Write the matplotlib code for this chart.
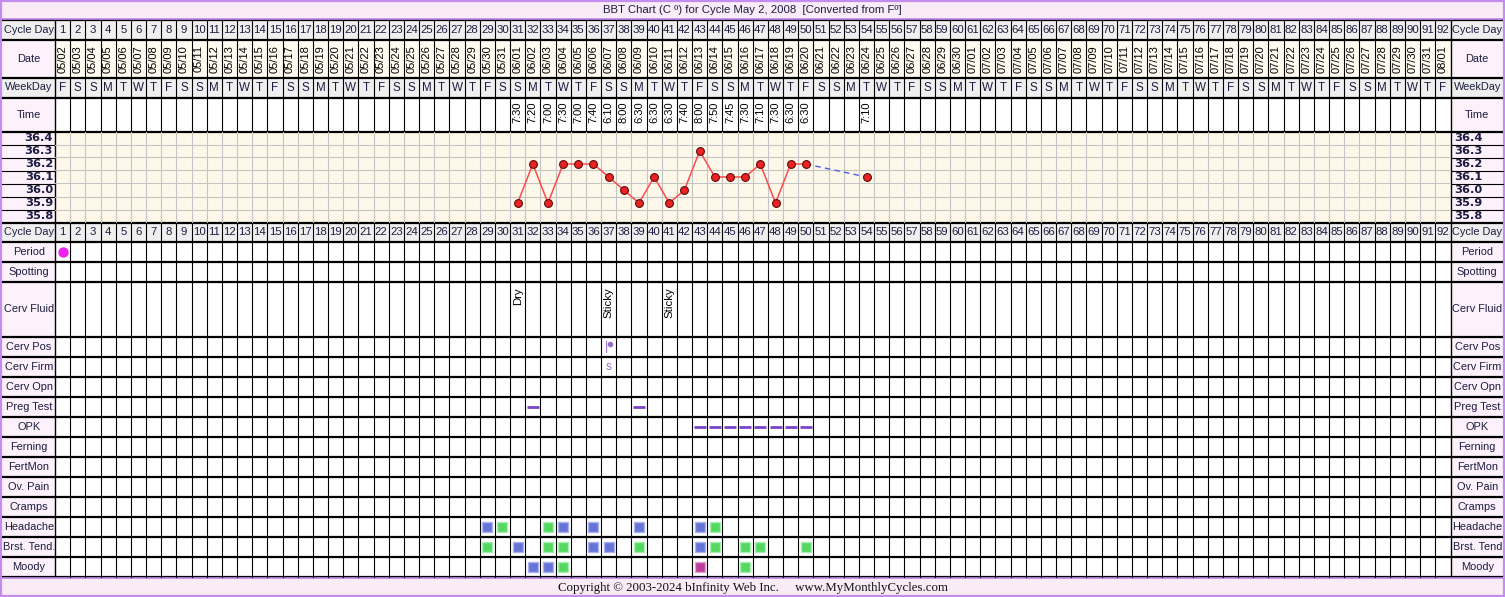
import datetime
import matplotlib
matplotlib.use('Agg')
import matplotlib.pyplot as plt
from matplotlib.patches import Rectangle

# ---------------- data ----------------
title = "BBT Chart (C \u00ba) for Cycle May 2, 2008  [Converted from F\u00ba]"
footer = "Copyright \u00a9 2003-2024 bInfinity Web Inc.     www.MyMonthlyCycles.com"

cycle_days = list(range(1, 93))
start_date = datetime.date(2008, 5, 2)
dates = [(start_date + datetime.timedelta(days=d - 1)).strftime('%m/%d') for d in cycle_days]
weekdays = ['MTWTFSS'[(start_date + datetime.timedelta(days=d - 1)).weekday()] for d in cycle_days]

temp_levels = [36.4, 36.3, 36.2, 36.1, 36.0, 35.9, 35.8]

temp_days = [31, 32, 33, 34, 35, 36, 37, 38, 39, 40, 41, 42, 43, 44, 45, 46, 47, 48, 49, 50]
temps = [35.9, 36.2, 35.9, 36.2, 36.2, 36.2, 36.1, 36.0, 35.9, 36.1,
         35.9, 36.0, 36.3, 36.1, 36.1, 36.1, 36.2, 35.9, 36.2, 36.2]
temp_times = ['7:30', '7:20', '7:00', '7:30', '7:00', '7:40', '6:10', '8:00', '6:30', '6:30',
              '6:30', '7:40', '8:00', '7:50', '7:45', '7:30', '7:10', '7:30', '6:30', '6:30']
late_days = [54]
late_temps = [36.1]
late_times = ['7:10']

period_days = [1]
cf_days = [31, 37, 41]
cf_text = ['Dry', 'Sticky', 'Sticky']
cerv_pos_days = [37]
cerv_firm_days = [37]
cerv_firm_text = ['s']
preg_days = [32, 39]
opk_days = [43, 44, 45, 46, 47, 48, 49, 50]
headache_days = [29, 30, 33, 34, 36, 39, 43, 44]
headache_kind = ['b', 'g', 'g', 'b', 'b', 'b', 'b', 'g']
brst_days = [29, 31, 33, 34, 36, 37, 39, 43, 44, 46, 47, 50]
brst_kind = ['g', 'b', 'g', 'g', 'b', 'b', 'g', 'b', 'g', 'g', 'g', 'g']
moody_days = [32, 33, 34, 43, 46]
moody_kind = ['b', 'b', 'g', 'm', 'g']

lower_labels = ['Period', 'Spotting', 'Cerv Fluid', 'Cerv Pos', 'Cerv Firm', 'Cerv Opn',
                'Preg Test', 'OPK', 'Ferning', 'FertMon', 'Ov. Pain', 'Cramps',
                'Headache', 'Brst. Tend.', 'Moody']
lower_labels_right = ['Period', 'Spotting', 'Cerv Fluid', 'Cerv Pos', 'Cerv Firm', 'Cerv Opn',
                      'Preg Test', 'OPK', 'Ferning', 'FertMon', 'Ov. Pain', 'Cramps',
                      'Headache', 'Brst. Tend', 'Moody']

# ---------------- layout ----------------
W, H = 1505, 597
X0, X1 = 55.0, 1450.5
LL, RR = 2.0, 1503.0
TT, TB = 131.5, 222.5

C_BORDER = '#c58cf0'
C_BAND = '#f9ecf7'
C_PINK = '#fdf2fc'
C_GRAY = '#efefef'
C_CREAM = '#fffbf0'
C_TEMP = '#fdf8ea'
C_GRID = '#c4c4c4'
C_TXT = '#1c1c40'
SQ = {'b': '#6674d8', 'g': '#55d860', 'm': '#c03c9c'}
SQE = {'b': '#aab2ee', 'g': '#a8eeb0', 'm': '#e0a0d0'}
PURP = '#7a44c8'

SANS = 'Liberation Sans'
FS_LAB = 7.9
FS_DAY = 8.2
FS_ROT = 8.0

fig = plt.figure(figsize=(W / 100, H / 100), dpi=100)
fig.patch.set_facecolor('white')
ax = fig.add_axes([0, 0, 1, 1])
ax.set_xlim(0, W)
ax.set_ylim(H, 0)
ax.axis('off')

axd = fig.add_axes([X0 / W, 0, (X1 - X0) / W, 1])
axd.set_xlim(0.5, 92.5)
axd.set_ylim(H, 0)
axd.axis('off')
axd.patch.set_alpha(0)

# header rows
upper_rows = [('Cycle Day', 19.5, 40.0, C_GRAY, C_GRAY),
              ('Date', 40.0, 77.5, C_PINK, C_CREAM),
              ('WeekDay', 77.5, 97.5, C_GRAY, C_GRAY),
              ('Time', 97.5, TT, C_PINK, 'white')]
rows2 = [('Cycle Day', TB, 241.7, C_GRAY, C_GRAY),
         ('Period', 241.7, 261.7, C_PINK, 'white'),
         ('Spotting', 261.7, 282.0, C_PINK, 'white'),
         ('Cerv Fluid', 282.0, 336.7, C_PINK, 'white')]
y = 336.7
for lab in lower_labels[3:]:
    rows2.append((lab, y, y + 20.0, C_PINK, 'white'))
    y += 20.0
BOT = y

# bands
ax.add_patch(Rectangle((0, 0), W, 19.5, facecolor=C_BAND, edgecolor='none'))
ax.add_patch(Rectangle((0, BOT), W, H - BOT, facecolor=C_BAND, edgecolor='none'))
ax.text(W / 2, 10, title, ha='center', va='center', fontsize=8.2, family=SANS, color=C_TXT)
ax.text(W / 2, 587.5, footer, ha='center', va='center', fontsize=9.3,
        family='Liberation Serif', color='#101010')

all_rows = upper_rows + rows2
for i, (lab, t, b, lbg, cbg) in enumerate(all_rows):
    ax.add_patch(Rectangle((LL, t), X0 - LL, b - t, facecolor=lbg, edgecolor='none'))
    ax.add_patch(Rectangle((X1, t), RR - X1, b - t, facecolor=lbg, edgecolor='none'))
    ax.add_patch(Rectangle((X0, t), X1 - X0, b - t, facecolor=cbg, edgecolor='none'))
    ax.text((LL + X0) / 2 + 0.5, (t + b) / 2, lab, ha='center', va='center', fontsize=FS_LAB,
            family=SANS, color=C_TXT)
    rlab = lab
    if i >= len(upper_rows) and lab in lower_labels:
        rlab = lower_labels_right[lower_labels.index(lab)]
    ax.text((X1 + RR) / 2 + 0.5, (t + b) / 2, rlab, ha='center', va='center', fontsize=FS_LAB,
            family=SANS, color=C_TXT)

# temperature region background + label cells
ax.add_patch(Rectangle((X0, TT), X1 - X0, TB - TT, facecolor=C_TEMP, edgecolor='none'))
ax.add_patch(Rectangle((LL, TT), X0 - LL, TB - TT, facecolor=C_PINK, edgecolor='none'))
ax.add_patch(Rectangle((X1, TT), RR - X1, TB - TT, facecolor=C_PINK, edgecolor='none'))
rh = (TB - TT) / len(temp_levels)
for k, tv in enumerate(temp_levels):
    yc = TT + rh * (k + 0.5)
    ax.text(X0 - 2, yc, f"{tv:.1f}", ha='right', va='center', fontsize=8.2,
            family='DejaVu Sans', weight='bold', color=C_TXT)
    ax.text(X1 + 4, yc, f"{tv:.1f}", ha='left', va='center', fontsize=8.2,
            family='DejaVu Sans', weight='bold', color=C_TXT)
    if k > 0:
        ax.plot([LL, X0], [TT + rh * k] * 2, color='black', lw=0.8)
        ax.plot([X1, RR], [TT + rh * k] * 2, color='black', lw=0.8)

# grid lines
bounds = [r[1] for r in upper_rows] + [TT, TB] + [r[2] for r in rows2]
for yy in bounds:
    ax.plot([LL, RR], [yy, yy], color='black', lw=1.6, solid_capstyle='butt')
for xx in (X0, X1):
    ax.plot([xx, xx], [19.5, BOT], color='black', lw=1.0)
for d in range(1, 92):
    axd.plot([d + 0.5, d + 0.5], [19.5, TT], color='black', lw=0.8)
    axd.plot([d + 0.5, d + 0.5], [TT, TB], color=C_GRID, lw=0.8)
    axd.plot([d + 0.5, d + 0.5], [TB, BOT], color='black', lw=0.8)

# day texts
for d, dt, wd in zip(cycle_days, dates, weekdays):
    axd.text(d, 30, str(d), ha='center', va='center', fontsize=FS_DAY, family=SANS, color=C_TXT)
    axd.text(d, 232.3, str(d), ha='center', va='center', fontsize=FS_DAY, family=SANS, color=C_TXT)
    axd.text(d, 59.0, dt, ha='center', va='center', rotation=90, fontsize=FS_ROT,
             family=SANS, color='black')
    axd.text(d, 87.8, wd, ha='center', va='center', fontsize=8.4, family=SANS, color=C_TXT)
for d, tm in zip(temp_days + late_days, temp_times + late_times):
    axd.text(d, 101.5, tm, ha='center', va='top', rotation=90, fontsize=FS_ROT,
             family=SANS, color='black')

# outer border
ax.add_patch(Rectangle((0.8, 0.8), W - 1.6, H - 1.6, facecolor='none', edgecolor=C_BORDER, lw=1.6))
ax.plot([0, W], [19.0, 19.0], color=C_BORDER, lw=1.2)
ax.plot([0, W], [BOT + 0.8, BOT + 0.8], color=C_BORDER, lw=1.2)

# temperature chart
axt = fig.add_axes([X0 / W, 1 - TB / H, (X1 - X0) / W, (TB - TT) / H])
axt.set_xlim(0.5, 92.5)
axt.set_ylim(temp_levels[-1] - 0.05, temp_levels[0] + 0.05)
axt.axis('off')
axt.patch.set_alpha(0)
for k in range(1, len(temp_levels)):
    lvl = temp_levels[k] + 0.05
    axt.plot([0.5, 92.5], [lvl, lvl], color=C_GRID, lw=0.8)
axt.plot([temp_days[-1], late_days[0]], [temps[-1], late_temps[0]], color='#4a5cf0',
         lw=1.0, ls=(0, (4, 3)))
axt.plot(temp_days, temps, color='#ff4a4a', lw=1.1, zorder=3)
axt.plot(temp_days + late_days, temps + late_temps, ls='none', marker='o', ms=5.6,
         mfc='#ee2222', mec='#5a0a0a', mew=0.8, zorder=4)

# lower rows markers
row_center = {r[0]: (r[1] + r[2]) / 2 for r in rows2}
axd.plot(period_days, [row_center['Period']] * len(period_days), ls='none', marker='o',
         ms=6.5, mfc='#ee22ee', mec='#ee22ee')
for d, s in zip(cf_days, cf_text):
    axd.text(d, 287.0, s, ha='center', va='top', rotation=90, fontsize=8.2,
             family=SANS, color='black')
for d in cerv_pos_days:
    axd.text(d - 0.13, row_center['Cerv Pos'] + 0.5, '|', ha='center', va='center',
             fontsize=9, family=SANS, color='#9a6ad0')
    axd.plot([d + 0.12], [row_center['Cerv Pos'] - 2.5], ls='none', marker='o', ms=3,
             mfc='#9a6ad0', mec='#9a6ad0')
for d, s in zip(cerv_firm_days, cerv_firm_text):
    axd.text(d, row_center['Cerv Firm'], s, ha='center', va='center', fontsize=8.6,
             family=SANS, color='#9a6ad0')
axd.plot(preg_days, [row_center['Preg Test']] * len(preg_days), ls='none', marker='_',
         ms=9, mew=2.0, color=PURP)
axd.plot(opk_days, [row_center['OPK']] * len(opk_days), ls='none', marker='_',
         ms=9, mew=2.0, color=PURP)
for lab, days, kinds in (('Headache', headache_days, headache_kind),
                         ('Brst. Tend.', brst_days, brst_kind),
                         ('Moody', moody_days, moody_kind)):
    for d, k in zip(days, kinds):
        axd.plot([d], [row_center[lab]], ls='none', marker='s', ms=7.2,
                 mfc=SQ[k], mec=SQE[k], mew=1.0)

fig.savefig('out.png', dpi=100, facecolor='white')
